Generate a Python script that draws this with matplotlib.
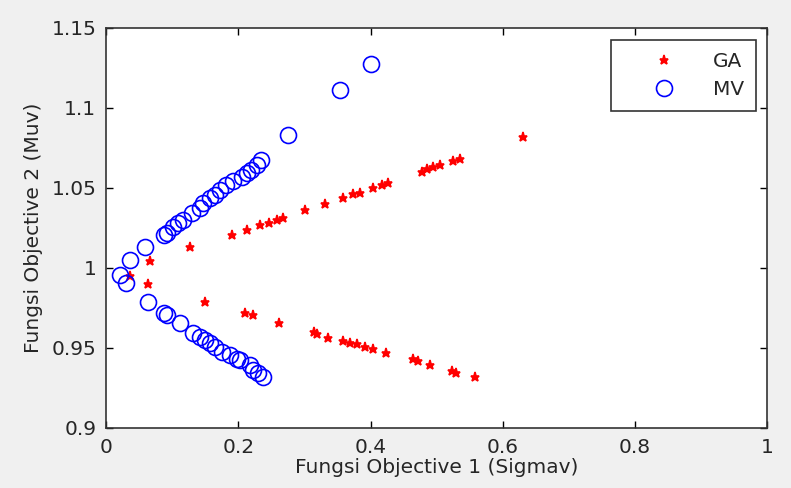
import matplotlib
matplotlib.use("Agg")
import matplotlib.pyplot as plt

plt.rcParams['font.family'] = ['DejaVu Sans']

# GA front (red stars)
ga_x = [0.036, 0.064, 0.067, 0.127, 0.190, 0.213, 0.233, 0.246, 0.258, 0.268,
        0.301, 0.331, 0.359, 0.374, 0.384, 0.404, 0.417, 0.427, 0.478, 0.485,
        0.495, 0.505, 0.525, 0.536, 0.631,
        0.150, 0.210, 0.223, 0.262, 0.314, 0.319, 0.336, 0.359, 0.369, 0.379,
        0.392, 0.404, 0.424, 0.465, 0.472, 0.490, 0.523, 0.530, 0.558]
ga_y = [0.995, 0.990, 1.0046, 1.0129, 1.0206, 1.0234, 1.0266, 1.0283, 1.030, 1.031,
        1.036, 1.040, 1.0436, 1.046, 1.047, 1.0498, 1.0517, 1.0533, 1.0598, 1.0617,
        1.0633, 1.0644, 1.0671, 1.068, 1.082,
        0.979, 0.972, 0.9706, 0.9654, 0.9598, 0.9586, 0.9564, 0.9546, 0.9533, 0.9525,
        0.9508, 0.9492, 0.9467, 0.9429, 0.9419, 0.9394, 0.9358, 0.9346, 0.9321]

# MV front (blue circles)
mv_x = [0.021, 0.031, 0.036, 0.059, 0.087, 0.092, 0.102, 0.109, 0.117, 0.130,
        0.142, 0.147, 0.157, 0.165, 0.172, 0.182, 0.192, 0.205, 0.213, 0.220,
        0.228, 0.235, 0.275, 0.354, 0.401,
        0.064, 0.087, 0.092, 0.112, 0.132, 0.142, 0.150, 0.157, 0.165, 0.175,
        0.188, 0.198, 0.203, 0.218, 0.223, 0.230, 0.238]
mv_y = [0.9956, 0.9904, 1.005, 1.0129, 1.0206, 1.0217, 1.0254, 1.0279, 1.030, 1.0342,
        1.0373, 1.0404, 1.0436, 1.0456, 1.0488, 1.052, 1.054, 1.0571, 1.0592, 1.0613,
        1.0644, 1.0675, 1.083, 1.111, 1.1275,
        0.979, 0.9717, 0.9706, 0.9654, 0.9592, 0.9567, 0.955, 0.953, 0.9508, 0.9477,
        0.9456, 0.9429, 0.9425, 0.9394, 0.9363, 0.9342, 0.9321]

x_ticks = [0, 0.2, 0.4, 0.6, 0.8, 1]
x_labels = ['0', '0.2', '0.4', '0.6', '0.8', '1']
y_ticks = [0.9, 0.95, 1, 1.05, 1.1, 1.15]
y_labels = ['0.9', '0.95', '1', '1.05', '1.1', '1.15']

txt = '#262626'
fs = 14.5

fig = plt.figure(figsize=(7.91, 4.88), dpi=100, facecolor='#f0f0f0')
ax = fig.add_axes([0.134, 0.123, 0.836, 0.820])

ax.plot(ga_x, ga_y, linestyle='none', marker='*', color='#ff0000',
        markersize=6.5, markeredgewidth=1.2, label='GA')
ax.plot(mv_x, mv_y, linestyle='none', marker='o', markerfacecolor='none',
        markeredgecolor='#0000ff', markersize=11.5, markeredgewidth=1.2, label='MV')

ax.set_xlim(0, 1)
ax.set_ylim(0.9, 1.15)
ax.set_xticks(x_ticks)
ax.set_xticklabels(x_labels)
ax.set_yticks(y_ticks)
ax.set_yticklabels(y_labels)
ax.tick_params(direction='in', top=True, right=True, length=5, width=1,
               labelsize=fs, labelcolor=txt, pad=7)
for s in ax.spines.values():
    s.set_linewidth(1.2)
    s.set_color('#333333')

ax.set_xlabel('Fungsi Objective 1 (Sigmav)', fontsize=fs, color=txt, labelpad=1)
ax.set_ylabel('Fungsi Objective 2 (Muv)', fontsize=fs, color=txt, labelpad=6)

leg = ax.legend(loc='upper right', bbox_to_anchor=(0.983, 0.97), fontsize=fs,
                handlelength=4.1, handletextpad=0.35, borderpad=0.6,
                labelspacing=0.45, fancybox=False, framealpha=1,
                edgecolor='#333333', borderaxespad=0)
leg.get_frame().set_linewidth(1.2)
for t in leg.get_texts():
    t.set_color(txt)

fig.savefig('out.png', dpi=100, facecolor=fig.get_facecolor())
